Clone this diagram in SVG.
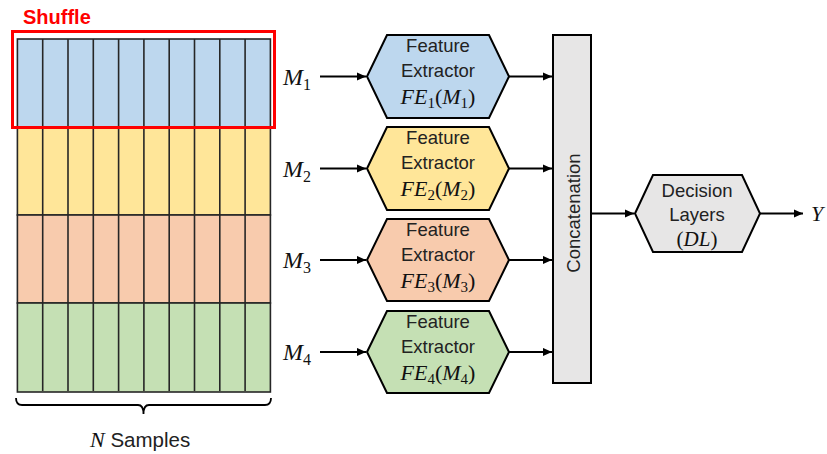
<svg xmlns="http://www.w3.org/2000/svg" width="827" height="454" viewBox="0 0 827 454">
<style>
.cell{stroke:#262626;stroke-width:1.6}
.hex{stroke:#000;stroke-width:2}
.lbl{font-family:"Liberation Sans",Arial,sans-serif;font-size:18.5px;fill:#222;text-anchor:middle}
.math{font-family:"Liberation Serif","Times New Roman",serif;font-style:italic;fill:#111}
.conn{stroke:#000;stroke-width:2;fill:none}
</style>
<defs>
<marker id="ah" viewBox="0 0 10 10" refX="10" refY="5" markerWidth="9" markerHeight="9" markerUnits="userSpaceOnUse" orient="auto">
<path d="M0,0.5 L10,5 L0,9.5 Z" fill="#000"/>
</marker>
<g id="cols">
<line x1="42.7" y1="0" x2="42.7" y2="88" class="cell"/>
<line x1="68" y1="0" x2="68" y2="88" class="cell"/>
<line x1="93.3" y1="0" x2="93.3" y2="88" class="cell"/>
<line x1="118.6" y1="0" x2="118.6" y2="88" class="cell"/>
<line x1="143.9" y1="0" x2="143.9" y2="88" class="cell"/>
<line x1="169.2" y1="0" x2="169.2" y2="88" class="cell"/>
<line x1="194.5" y1="0" x2="194.5" y2="88" class="cell"/>
<line x1="219.8" y1="0" x2="219.8" y2="88" class="cell"/>
<line x1="245.1" y1="0" x2="245.1" y2="88" class="cell"/>
</g>
</defs>
<rect width="827" height="454" fill="#fff"/>

<g id="data-grid">
<g id="row1"><rect x="17.4" y="39" width="253" height="88" fill="#BDD7EE" class="cell"/><use href="#cols" y="39"/></g>
<g id="row2"><rect x="17.4" y="127" width="253" height="88" fill="#FFE699" class="cell"/><use href="#cols" y="127"/></g>
<g id="row3"><rect x="17.4" y="215" width="253" height="88" fill="#F8CBAD" class="cell"/><use href="#cols" y="215"/></g>
<g id="row4"><rect x="17.4" y="303" width="253" height="89" fill="#C5E0B4" class="cell"/><use href="#cols" y="303"/></g>
</g>

<g id="shuffle">
<rect x="12.5" y="31.5" width="262" height="96" fill="none" stroke="#FF0000" stroke-width="3"/>
<text x="23" y="24" font-family="Liberation Sans,Arial,sans-serif" font-weight="bold" font-size="20" fill="#FF0000">Shuffle</text>
</g>

<g id="brace">
<path d="M16,398 Q16,405 22,405 L138,405 Q143.5,405 143.5,414 Q143.5,405 149,405 L265,405 Q271,405 271,398" fill="none" stroke="#000" stroke-width="1.8"/>
<text x="90" y="447" font-size="20.5" fill="#222"><tspan class="math" font-size="22">N</tspan><tspan font-family="Liberation Sans,Arial,sans-serif"> Samples</tspan></text>
</g>

<g id="inputs" class="math" font-size="24">
<text x="283" y="85">M<tspan font-size="16" font-style="normal" dy="5">1</tspan></text>
<text x="283" y="177">M<tspan font-size="16" font-style="normal" dy="5">2</tspan></text>
<text x="283" y="268">M<tspan font-size="16" font-style="normal" dy="5">3</tspan></text>
<text x="283" y="360">M<tspan font-size="16" font-style="normal" dy="5">4</tspan></text>
</g>

<g id="fe1">
<polygon class="hex" fill="#BDD7EE" points="367,76.5 387,35 489,35 509,76.5 489,118 387,118"/>
<text class="lbl" x="438" y="52">Feature</text>
<text class="lbl" x="438" y="77">Extractor</text>
<text class="math" x="438" y="104" text-anchor="middle" font-size="22">FE<tspan font-style="normal" font-size="15" dy="4">1</tspan><tspan font-style="normal" dy="-4">(</tspan>M<tspan font-style="normal" font-size="15" dy="4">1</tspan><tspan font-style="normal" dy="-4">)</tspan></text>
</g>
<g id="fe2">
<polygon class="hex" fill="#FFE699" points="367,168.5 387,127 489,127 509,168.5 489,210 387,210"/>
<text class="lbl" x="438" y="144">Feature</text>
<text class="lbl" x="438" y="169">Extractor</text>
<text class="math" x="438" y="196" text-anchor="middle" font-size="22">FE<tspan font-style="normal" font-size="15" dy="4">2</tspan><tspan font-style="normal" dy="-4">(</tspan>M<tspan font-style="normal" font-size="15" dy="4">2</tspan><tspan font-style="normal" dy="-4">)</tspan></text>
</g>
<g id="fe3">
<polygon class="hex" fill="#F8CBAD" points="367,260 387,219 489,219 509,260 489,301 387,301"/>
<text class="lbl" x="438" y="236">Feature</text>
<text class="lbl" x="438" y="261">Extractor</text>
<text class="math" x="438" y="288" text-anchor="middle" font-size="22">FE<tspan font-style="normal" font-size="15" dy="4">3</tspan><tspan font-style="normal" dy="-4">(</tspan>M<tspan font-style="normal" font-size="15" dy="4">3</tspan><tspan font-style="normal" dy="-4">)</tspan></text>
</g>
<g id="fe4">
<polygon class="hex" fill="#C5E0B4" points="367,352 387,311 489,311 509,352 489,393 387,393"/>
<text class="lbl" x="438" y="328">Feature</text>
<text class="lbl" x="438" y="353">Extractor</text>
<text class="math" x="438" y="380" text-anchor="middle" font-size="22">FE<tspan font-style="normal" font-size="15" dy="4">4</tspan><tspan font-style="normal" dy="-4">(</tspan>M<tspan font-style="normal" font-size="15" dy="4">4</tspan><tspan font-style="normal" dy="-4">)</tspan></text>
</g>

<g id="concat">
<rect x="553" y="35" width="38" height="348" fill="#E7E6E6" stroke="#000" stroke-width="2"/>
<text class="lbl" font-size="21" transform="translate(579.5,213) rotate(-90)">Concatenation</text>
</g>

<g id="decision">
<polygon class="hex" fill="#E7E6E6" points="635,213.5 653,175 742,175 760,213.5 742,252 653,252"/>
<text class="lbl" font-size="18" x="697" y="197">Decision</text>
<text class="lbl" font-size="18" x="697" y="221">Layers</text>
<text class="math" x="697" y="246" text-anchor="middle" font-size="21"><tspan font-style="normal">(</tspan>DL<tspan font-style="normal">)</tspan></text>
</g>

<g id="output">
<text class="math" x="811" y="221" font-size="22">Y</text>
</g>

<g id="connectors" class="conn">
<line x1="320" y1="76.5" x2="366" y2="76.5" marker-end="url(#ah)"/>
<line x1="320" y1="168.5" x2="366" y2="168.5" marker-end="url(#ah)"/>
<line x1="320" y1="260" x2="366" y2="260" marker-end="url(#ah)"/>
<line x1="320" y1="352" x2="366" y2="352" marker-end="url(#ah)"/>
<line x1="509" y1="76.5" x2="552" y2="76.5" marker-end="url(#ah)"/>
<line x1="509" y1="168.5" x2="552" y2="168.5" marker-end="url(#ah)"/>
<line x1="509" y1="260" x2="552" y2="260" marker-end="url(#ah)"/>
<line x1="509" y1="352" x2="552" y2="352" marker-end="url(#ah)"/>
<line x1="591" y1="213.5" x2="634" y2="213.5" marker-end="url(#ah)"/>
<line x1="760" y1="213.5" x2="803" y2="213.5" marker-end="url(#ah)"/>
</g>
</svg>
